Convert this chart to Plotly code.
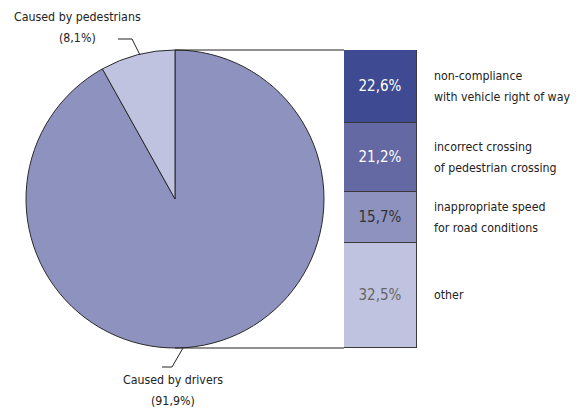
import plotly.graph_objects as go

# ---- data ----
pie_labels = ["Caused by pedestrians", "Caused by drivers"]
pie_values = [8.1, 91.9]
pie_text = ["(8,1%)", "(91,9%)"]
pie_colors = ["#c0c3df", "#8e92bf"]

bar_labels = ["non-compliance<br>with vehicle right of way",
              "incorrect crossing<br>of pedestrian crossing",
              "inappropriate speed<br>for road conditions",
              "other"]
bar_values = [22.6, 21.2, 15.7, 32.5]
bar_text = ["22,6%", "21,2%", "15,7%", "32,5%"]
bar_colors = ["#3e4a91", "#6468a3", "#8e92bf", "#c0c3df"]
bar_text_colors = ["#ffffff", "#ffffff", "#333333", "#666666"]

FONT = "DejaVu Sans Condensed, Liberation Sans Narrow, sans-serif"
LBL = 12.3
LINE_H = 21
W, H = 585, 411

def px(x):
    return x / W

def py(y):
    return 1 - y / H

pie_top, pie_bot = 50, 348
pie_left, pie_right = 26, 324
bar_left, bar_right = 344, 417

fig = go.Figure()

# drivers drawn first clockwise from 12 o'clock, so the pedestrians slice ends at 12 o'clock on the left
fig.add_trace(go.Pie(
    labels=pie_labels[::-1], values=pie_values[::-1], sort=False,
    direction="clockwise", rotation=0,
    marker=dict(colors=pie_colors[::-1], line=dict(color="#2a2a2a", width=1)),
    textinfo="none", hoverinfo="label+percent", showlegend=False,
    domain=dict(x=[px(pie_left), px(pie_right)], y=[py(pie_bot), py(pie_top)]),
))

total = sum(bar_values)
for lab, val, txt, col, tcol in zip(bar_labels, bar_values, bar_text, bar_colors, bar_text_colors):
    fig.add_trace(go.Bar(
        x=[0], y=[val], width=1, name=lab,
        marker=dict(color=col, line=dict(color="#3a3a3a", width=1)),
        text=[txt], textposition="inside", insidetextanchor="middle",
        textfont=dict(color=tcol, size=15, family=FONT),
        showlegend=False, hoverinfo="skip",
    ))

annotations = []

def add_lines(text, x, y, yref, xanchor, align):
    lines = text.split("<br>")
    n = len(lines)
    for i, ln in enumerate(lines):
        annotations.append(dict(
            x=x, xref="paper", y=y, yref=yref, text=ln, showarrow=False,
            xanchor=xanchor, yanchor="middle", align=align,
            yshift=((n - 1) / 2 - i) * LINE_H,
            font=dict(size=LBL, color="#222222", family=FONT)))

cum = 0
for lab, val in zip(bar_labels, bar_values):
    mid = cum + val / 2
    cum += val
    add_lines(lab, px(432), mid, "y", "left", "left")

add_lines(pie_labels[0] + "<br>" + pie_text[0], px(77), py(27.5), "paper", "center", "center")
add_lines(pie_labels[1] + "<br>" + pie_text[1], px(173), py(390), "paper", "center", "center")

line = dict(color="#222222", width=1)
shapes = [
    dict(type="line", xref="paper", yref="paper", x0=px(175), y0=py(pie_top), x1=px(bar_left), y1=py(pie_top), line=line),
    dict(type="line", xref="paper", yref="paper", x0=px(175), y0=py(pie_bot), x1=px(bar_left), y1=py(pie_bot), line=line),
    dict(type="path", xref="paper", yref="paper",
         path=f"M {px(118)},{py(39)} L {px(132)},{py(39)} L {px(140)},{py(55)}", line=line),
    dict(type="path", xref="paper", yref="paper",
         path=f"M {px(162)},{py(367)} L {px(172)},{py(367)} L {px(183)},{py(348)}", line=line),
]

fig.update_layout(
    width=W, height=H, margin=dict(l=0, r=0, t=0, b=0),
    paper_bgcolor="white", plot_bgcolor="white",
    barmode="stack", bargap=0,
    xaxis=dict(domain=[px(bar_left), px(bar_right)], range=[-0.5, 0.5], visible=False, fixedrange=True),
    yaxis=dict(domain=[py(pie_bot), py(pie_top)], range=[total, 0], visible=False, fixedrange=True),
    annotations=annotations, shapes=shapes,
    font=dict(family=FONT),
    uniformtext=dict(minsize=10, mode="show"),
)

fig.write_html("out.html", config={"displayModeBar": False})

# remove default page margin so the figure sits at the window's top-left corner
with open("out.html", "r", encoding="utf-8") as f:
    html = f.read()
html = html.replace("<body>", '<body style="margin:0;overflow:hidden">', 1)
with open("out.html", "w", encoding="utf-8") as f:
    f.write(html)
